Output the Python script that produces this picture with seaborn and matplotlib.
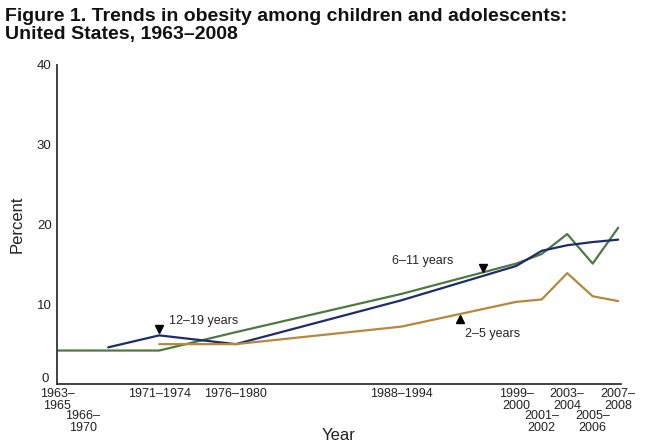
import matplotlib
matplotlib.use("Agg")
import matplotlib.pyplot as plt
import matplotlib.transforms as mtransforms
import numpy as np
import pandas as pd
import seaborn as sns

# Periodos do levantamento (NHES / NHANES)
periodos = ["1963–1965", "1966–1970", "1971–1974", "1976–1980", "1988–1994",
            "1999–2000", "2001–2002", "2003–2004", "2005–2006", "2007–2008"]
# posicao de cada periodo no eixo do tempo (anos)
ano_periodo = [1964, 1968, 1972, 1978, 1991, 2000, 2002, 2004, 2006, 2008]
# posicao dos rotulos do eixo x (1966–1970 fica no inicio do periodo)
ano_rotulo = [1964, 1966, 1972, 1978, 1991, 2000, 2002, 2004, 2006, 2008]
rotulos_baixos = ["1966–1970", "2001–2002", "2005–2006"]
rotulos_uma_linha = ["1971–1974", "1976–1980", "1988–1994"]

# Percentual de obesidade por faixa etaria
idade_2_5 = [np.nan, np.nan, 5.0, 5.0, 7.2, 10.3, 10.6, 13.9, 11.0, 10.4]
idade_6_11 = [4.2, np.nan, 4.2, 6.5, 11.3, 15.1, 16.3, 18.8, 15.1, 19.6]
idade_12_19 = [np.nan, 4.6, 6.1, 5.0, 10.5, 14.8, 16.7, 17.4, 17.8, 18.1]

faixas = ["2–5 years", "6–11 years", "12–19 years"]
cores = {"2–5 years": "#b8873c", "6–11 years": "#4d7a3e", "12–19 years": "#1f2b6c"}

df = pd.DataFrame({
    "ano": ano_periodo * 3,
    "percent": idade_2_5 + idade_6_11 + idade_12_19,
    "faixa": np.repeat(faixas, len(ano_periodo)),
}).dropna()


def quebra(p):
    return p if p in rotulos_uma_linha else p.replace("–", "–\n")


sns.set_style("white")
plt.rcParams["font.family"] = ["Liberation Sans", "DejaVu Sans"]

fig = plt.figure(figsize=(6.5, 4.45), dpi=100)
ax = fig.add_axes([0.088, 0.137, 0.867, 0.717])

sns.lineplot(data=df, x="ano", y="percent", hue="faixa", palette=cores,
             hue_order=["6–11 years", "12–19 years", "2–5 years"],
             linewidth=1.6, legend=False, ax=ax, sort=True)

ax.set_xlim(1964, 2008.2)
ax.set_ylim(0, 40)

# eixo y
ax.set_yticks([0, 10, 20, 30, 40])
ax.tick_params(axis="y", direction="in", length=8, width=1.1, color="#333333",
               labelsize=9.5, pad=4, labelcolor="#222222")
# o "0" fica um pouco acima, como no original
lbl0 = ax.get_yticklabels()[0]
lbl0.set_transform(lbl0.get_transform() +
                   mtransforms.ScaledTranslation(-2 / 72, 5 / 72, fig.dpi_scale_trans))

# eixo x: rotulos normais e rotulos rebaixados (tick longo)
labels_major = ["" if p in rotulos_baixos else quebra(p) for p in periodos]
ax.set_xticks(ano_rotulo)
ax.set_xticklabels(labels_major, linespacing=0.95)
ax.tick_params(axis="x", which="major", direction="in", length=8, width=1.1,
               color="#333333", labelsize=9, pad=3, labelcolor="#222222")

baixos_pos = [ano_rotulo[periodos.index(p)] for p in rotulos_baixos]
ax.xaxis.remove_overlapping_locs = False
ax.set_xticks(baixos_pos, minor=True)
ax.set_xticklabels([quebra(p) for p in rotulos_baixos], minor=True,
                   linespacing=0.95)
ax.tick_params(axis="x", which="minor", direction="out", length=17, width=1.1,
               color="#333333", labelsize=9, pad=2, labelcolor="#222222")

for lado in ["top", "right"]:
    ax.spines[lado].set_visible(False)
for lado in ["left", "bottom"]:
    ax.spines[lado].set_color("#333333")
    ax.spines[lado].set_linewidth(1.3)

ax.set_xlabel("Year", fontsize=12, labelpad=-4, color="#222222")
ax.set_ylabel("Percent", fontsize=12, labelpad=9, color="#222222")

# rotulos das curvas
ax.plot(1972, 6.9, marker="v", color="black", ms=6)
ax.text(1972.8, 7.9, "12–19 years", fontsize=9, ha="left", va="center")
ax.plot(1997.4, 14.6, marker="v", color="black", ms=6)
ax.text(1995.1, 15.4, "6–11 years", fontsize=9, ha="right", va="center")
ax.plot(1995.6, 8.2, marker="^", color="black", ms=6)
ax.text(1996.0, 6.3, "2–5 years", fontsize=9, ha="left", va="center")

fig.text(0.008, 0.982, "Figure 1. Trends in obesity among children and adolescents:\n"
         "United States, 1963–2008", fontsize=14, fontweight="bold",
         ha="left", va="top", linespacing=1.1, color="#111111")

fig.savefig("out.png", dpi=100)
